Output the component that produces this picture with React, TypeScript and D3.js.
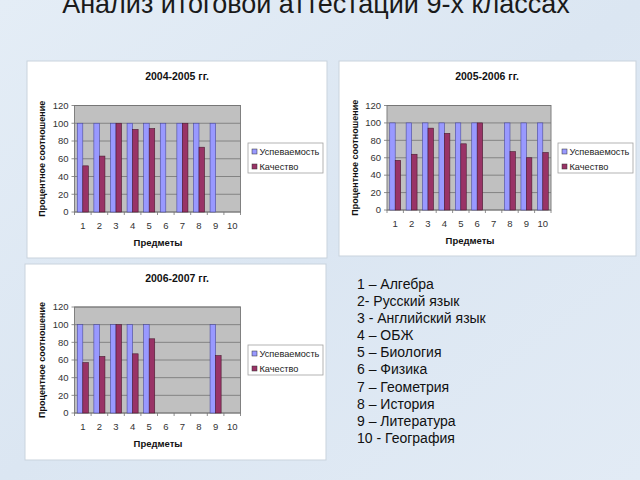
import React from "react";
import * as d3 from "d3";

const categories = ["1", "2", "3", "4", "5", "6", "7", "8", "9", "10"];
const seriesNames = ["Успеваемость", "Качество"];
const yTicks = [0, 20, 40, 60, 80, 100, 120];

const titles = ["2004-2005 гг.", "2005-2006 гг.", "2006-2007 гг."];

const perf0405: (number | null)[] = [100, 100, 100, 100, 100, 100, 100, 100, 100, null];
const qual0405: (number | null)[] = [52, 63, 100, 93, 94, null, 100, 73, null, null];

const perf0506: (number | null)[] = [100, 100, 100, 100, 100, 100, null, 100, 100, 100];
const qual0506: (number | null)[] = [57, 64, 94, 88, 76, 100, null, 67, 60, 66];

const perf0607: (number | null)[] = [100, 100, 100, 100, 100, null, null, null, 100, null];
const qual0607: (number | null)[] = [57, 64, 100, 67, 84, null, null, null, 65, null];

const subjects = [
  "1 – Алгебра",
  "2- Русский язык",
  "3 - Английский язык",
  "4 – ОБЖ",
  "5 – Биология",
  "6 – Физика",
  "7 – Геометрия",
  "8 – История",
  "9 – Литература",
  "10 - География",
];

const mainTitle = "Анализ итоговой аттестации 9-х классах";
const yAxisTitle = "Процентное соотношение";
const xAxisTitle = "Предметы";

const COLORS = ["#9999ff", "#993366"];
const FONT = "'Liberation Sans', Arial, sans-serif";

type Layout = {
  panel: [number, number, number, number];
  plot: [number, number, number, number];
  legend: [number, number, number, number];
  titleX: number;
  titleY: number;
  yLabelX: number;
  xLabelX: number;
};

const layouts: Layout[] = [
  { panel: [27, 61, 300, 197], plot: [74.5, 105.5, 166, 106.5], legend: [248, 143, 75, 30], titleX: 177, titleY: 80, yLabelX: 45, xLabelX: 158 },
  { panel: [339, 61, 297, 195], plot: [387, 105.5, 164, 104.5], legend: [558, 143, 75, 30], titleX: 487, titleY: 80, yLabelX: 358, xLabelX: 470 },
  { panel: [25, 264, 301, 196], plot: [74.5, 307, 166, 106], legend: [248, 345, 75, 30], titleX: 177, titleY: 282, yLabelX: 45, xLabelX: 158 },
];

function Chart({ layout, title, data }: { layout: Layout; title: string; data: (number | null)[][] }) {
  const [px, py, pw, ph] = layout.plot;
  const x = d3.scaleBand<string>().domain(categories).range([px, px + pw]).padding(0);
  const inner = d3.scaleBand<string>().domain(seriesNames).range([0, x.bandwidth()]).paddingInner(0).paddingOuter(0.5);
  const y = d3.scaleLinear().domain([0, 120]).range([py + ph, py]);
  const [lx, ly, lw, lh] = layout.legend;
  const [bx, by, bw, bh] = layout.panel;
  return (
    <g>
      <rect x={bx} y={by} width={bw} height={bh} fill="#ffffff" stroke="#c9d3dd" strokeWidth={1} />
      <text x={layout.titleX} y={layout.titleY} textAnchor="middle" fontFamily={FONT} fontSize={10.5} fontWeight="bold" fill="#111">
        {title}
      </text>
      <rect x={px} y={py} width={pw} height={ph} fill="#c0c0c0" stroke="#808080" strokeWidth={1} />
      {yTicks.map((t) => (
        <g key={t}>
          <line x1={px} x2={px + pw} y1={y(t)} y2={y(t)} stroke="#737373" strokeWidth={0.8} />
          <line x1={px - 3} x2={px} y1={y(t)} y2={y(t)} stroke="#737373" strokeWidth={0.8} />
          <text x={px - 6} y={y(t)} dy="0.35em" textAnchor="end" fontFamily={FONT} fontSize={9.5} fill="#333">
            {t}
          </text>
        </g>
      ))}
      {categories.map((c, i) => (
        <g key={c}>
          <line x1={x(c)!} x2={x(c)!} y1={py + ph} y2={py + ph + 3} stroke="#737373" strokeWidth={0.8} />
          {i === categories.length - 1 && (
            <line x1={x(c)! + x.bandwidth()} x2={x(c)! + x.bandwidth()} y1={py + ph} y2={py + ph + 3} stroke="#737373" strokeWidth={0.8} />
          )}
          <text x={x(c)! + x.bandwidth() / 2} y={py + ph + 14} dy="0.35em" textAnchor="middle" fontFamily={FONT} fontSize={9.5} fill="#333">
            {c}
          </text>
        </g>
      ))}
      {data.map((vals, si) =>
        vals.map((v, ci) =>
          v == null ? null : (
            <rect
              key={`${si}-${ci}`}
              x={x(categories[ci])! + inner(seriesNames[si])!}
              y={y(v)}
              width={inner.bandwidth()}
              height={y(0) - y(v)}
              fill={COLORS[si]}
              stroke={si === 0 ? "#4a4a9a" : "#4a1a30"}
              strokeWidth={0.6}
            />
          )
        )
      )}
      <text
        transform={`translate(${layout.yLabelX},${py + ph / 2}) rotate(-90)`}
        textAnchor="middle"
        fontFamily={FONT}
        fontSize={9}
        fontWeight="bold"
        fill="#111"
      >
        {yAxisTitle}
      </text>
      <text x={layout.xLabelX} y={py + ph + 31} dy="0.35em" textAnchor="middle" fontFamily={FONT} fontSize={9.5} fontWeight="bold" fill="#111">
        {xAxisTitle}
      </text>
      <rect x={lx} y={ly} width={lw} height={lh} fill="#ffffff" stroke="#a0a0a0" strokeWidth={0.8} />
      {seriesNames.map((s, i) => (
        <g key={s}>
          <rect x={lx + 4} y={ly + 6 + i * 15} width={5} height={5} fill={COLORS[i]} stroke="#333" strokeWidth={0.5} />
          <text x={lx + 11.5} y={ly + 8.5 + i * 15} dy="0.35em" fontFamily={FONT} fontSize={9.2} fill="#222">
            {s}
          </text>
        </g>
      ))}
    </g>
  );
}

export default function App() {
  const datasets = [
    [perf0405, qual0405],
    [perf0506, qual0506],
    [perf0607, qual0607],
  ];
  return (
    <svg width={640} height={480} style={{ position: "absolute", left: 0, top: 0 }}>
      <defs>
        <linearGradient id="bg" x1="0" y1="0" x2="1" y2="1">
          <stop offset="0" stopColor="#e4edf6" />
          <stop offset="0.5" stopColor="#dbe6f2" />
          <stop offset="1" stopColor="#e2ebf5" />
        </linearGradient>
      </defs>
      <rect x={0} y={0} width={640} height={480} fill="url(#bg)" />
      <text x={316} y={13} textAnchor="middle" fontFamily={FONT} fontSize={27} fill="#1a1a1a">
        {mainTitle}
      </text>
      {layouts.map((l, i) => (
        <Chart key={i} layout={l} title={titles[i]} data={datasets[i]} />
      ))}
      {subjects.map((s, i) => (
        <text key={s} x={357} y={284 + i * 17.1} dy="0.35em" fontFamily={FONT} fontSize={14} fill="#111">
          {s}
        </text>
      ))}
    </svg>
  );
}
